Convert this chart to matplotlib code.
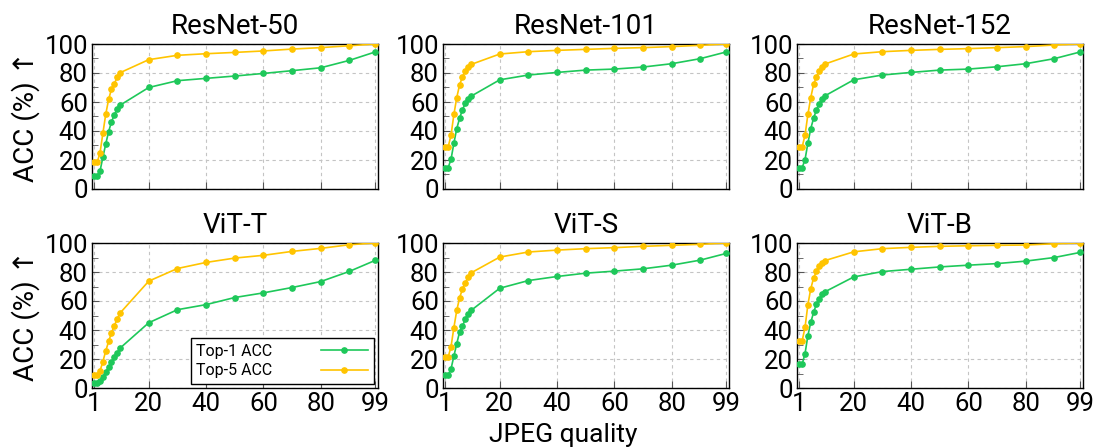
import matplotlib
matplotlib.use("Agg")
import matplotlib.pyplot as plt
from matplotlib.ticker import MultipleLocator

plt.rcParams['font.family'] = ['Roboto', 'DejaVu Sans']

# Calidad JPEG evaluada
calidad = [1, 2, 3, 4, 5, 6, 7, 8, 9, 10, 20, 30, 40, 50, 60, 70, 80, 90, 99]

modelos = ['ResNet-50', 'ResNet-101', 'ResNet-152', 'ViT-T', 'ViT-S', 'ViT-B']

# Top-1 ACC (%) por modelo
top1_r50 = [9.0, 9.0, 12.4, 21.9, 31.1, 39.6, 46.3, 51.2, 55.1, 57.8, 70.0, 74.7, 76.3, 77.9, 79.7, 81.6, 83.6, 88.7, 94.5]
top1_r101 = [14.7, 14.7, 20.5, 31.6, 41.7, 48.8, 54.8, 59.0, 62.4, 64.0, 75.3, 78.6, 80.4, 82.0, 82.7, 84.1, 86.4, 89.9, 94.5]
top1_r152 = [14.7, 14.7, 20.3, 31.6, 41.7, 48.8, 54.8, 58.8, 62.4, 64.3, 75.3, 78.6, 80.4, 82.0, 82.7, 84.3, 86.4, 89.9, 94.5]
top1_vitt = [3.7, 3.7, 4.6, 7.6, 11.1, 14.5, 17.6, 21.5, 24.0, 27.5, 45.0, 54.0, 57.5, 62.4, 65.6, 69.3, 73.4, 80.4, 88.0]
top1_vits = [8.8, 8.8, 13.2, 22.0, 30.6, 38.7, 42.6, 47.7, 51.2, 53.5, 68.8, 74.1, 76.9, 79.2, 80.6, 82.2, 84.7, 88.2, 92.8]
top1_vitb = [16.5, 16.5, 23.7, 36.2, 45.2, 52.2, 58.0, 61.3, 64.5, 66.4, 76.6, 80.3, 81.9, 83.5, 84.7, 85.8, 87.5, 90.0, 93.5]

# Top-5 ACC (%) por modelo
top5_r50 = [18.4, 18.4, 24.9, 38.5, 51.6, 61.8, 68.9, 72.6, 77.2, 80.2, 89.2, 92.2, 93.3, 94.2, 95.2, 96.5, 97.5, 98.8, 100.0]
top5_r101 = [29.0, 29.0, 37.1, 51.4, 63.1, 71.9, 77.4, 81.6, 83.9, 85.9, 93.1, 94.7, 95.6, 96.3, 97.0, 97.5, 98.2, 99.1, 100.0]
top5_r152 = [29.0, 29.0, 37.1, 51.4, 63.1, 72.1, 77.4, 81.6, 84.1, 86.2, 93.1, 94.7, 95.6, 96.3, 96.8, 97.5, 98.2, 99.3, 100.0]
top5_vitt = [9.2, 9.2, 11.8, 18.2, 25.6, 32.1, 38.1, 43.0, 47.6, 51.7, 73.7, 82.4, 86.6, 89.6, 91.5, 94.2, 96.3, 98.8, 100.0]
top5_vits = [21.3, 21.3, 28.5, 41.7, 53.5, 62.3, 68.3, 72.7, 76.4, 79.4, 90.3, 93.8, 95.1, 96.1, 96.8, 97.7, 98.4, 99.1, 100.0]
top5_vitb = [32.5, 32.5, 41.8, 57.5, 68.4, 75.9, 80.5, 83.8, 86.5, 87.9, 93.9, 96.1, 97.0, 97.7, 98.1, 98.4, 98.6, 99.5, 100.0]

top1 = [top1_r50, top1_r101, top1_r152, top1_vitt, top1_vits, top1_vitb]
top5 = [top5_r50, top5_r101, top5_r152, top5_vitt, top5_vits, top5_vitb]

verde = '#1ec85a'
amarillo = '#ffc400'

fig = plt.figure(figsize=(10.95, 4.48), dpi=100)

# posiciones de los ejes en pixeles
W, H = 1095.0, 448.0
izq = [92, 443, 797]
arriba = [44, 243]
ancho, alto = 286, 145

for i, nombre in enumerate(modelos):
    fila, col = divmod(i, 3)
    ax = fig.add_axes([izq[col] / W, 1 - (arriba[fila] + alto) / H, ancho / W, alto / H])
    ax.plot(calidad, top1[i], '-o', color=verde, lw=1.2, ms=3.8, label='Top-1 ACC', zorder=3)
    ax.plot(calidad, top5[i], '-o', color=amarillo, lw=1.2, ms=3.8, label='Top-5 ACC', zorder=3)
    ax.set_xlim(0.2, 100)
    ax.set_ylim(0, 100)
    ax.set_xticks([1, 20, 40, 60, 80, 99])
    ax.set_yticks([0, 20, 40, 60, 80, 100])
    ax.yaxis.set_minor_locator(MultipleLocator(10))
    ax.tick_params(which='both', direction='in', labelsize=18.5, color='#555555')
    ax.tick_params(which='major', length=5, pad=3)
    ax.tick_params(which='minor', length=4)
    if fila == 0:
        # la fila de arriba no lleva etiquetas en x
        ax.tick_params(axis='x', labelbottom=False)
    ax.grid(True, which='major', linestyle=(0, (3, 3)), color='#c4c4c4', lw=0.8)
    for s in ax.spines.values():
        s.set_linewidth(1.0)
    ax.set_title(nombre, fontsize=20, pad=7)
    if col == 0:
        ax.set_ylabel('ACC (%) ↑', fontsize=20, labelpad=3)
    if i == 3:
        leg = ax.legend(loc='lower right', fontsize=11.5, markerfirst=False,
                        handlelength=3.0, handletextpad=3.0, borderpad=0.35,
                        labelspacing=0.3, fancybox=False, framealpha=1,
                        edgecolor='black', borderaxespad=0.25)
        leg.get_frame().set_linewidth(1.0)

fig.text(563 / W, 1 - 435 / H, 'JPEG quality', ha='center', va='center', fontsize=19)

fig.savefig('out.png', dpi=100)
